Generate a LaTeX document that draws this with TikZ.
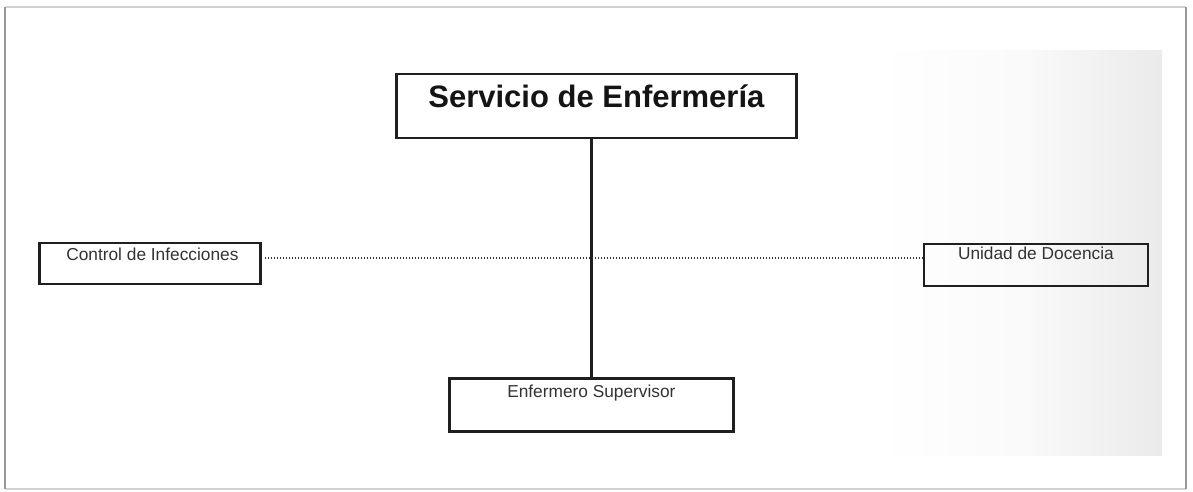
\documentclass[tikz,border=0pt]{standalone}
\usepackage{fontspec}
\setmainfont{Liberation Sans}
\begin{document}
\begin{tikzpicture}[x=1pt,y=-1pt,
  box/.style={draw=black!88,line width=2.8pt,inner xsep=0pt,inner ysep=0pt,anchor=north west,font=\fontsize{17.3}{20}\selectfont,text=black!80},
  title/.style={font=\fontsize{31}{36}\selectfont\bfseries,text=black!92},
  link/.style={draw=black!88,line width=2.2pt},
  dotline/.style={draw=black!80,line width=1.5pt,dash pattern=on 1.3pt off 1.7pt}]
\useasboundingbox (0,0) rectangle (1193,491);
\fill[white] (0,0) rectangle (1193,491);
% scan shading on the right
\shade[left color=white,right color=black!8,middle color=black!2] (880,50) rectangle (1162,455);
% outer frame
\draw[black!18,line width=2pt] (5,7) -- (1186,7);
\draw[black!18,line width=2pt] (5,489) -- (1186,489);
\draw[black!40,line width=2pt] (5,7) -- (5,489);
\draw[black!40,line width=2pt] (1186,7) -- (1186,489);
% nodes
\node[box,title,minimum width=400pt,text height=34pt,text depth=30pt] (serv) at (395,72.5) {Servicio de Enfermería};
\node[box,minimum width=221pt,text height=18pt,text depth=23pt] (ctrl) at (38,241.5) {\hspace*{5pt}Control de Infecciones};
\node[box,minimum width=224pt,text height=15.5pt,text depth=26.5pt] (unid) at (922.5,242.5) {Unidad de Docencia};
\node[box,minimum width=284pt,text height=19pt,text depth=34pt] (sup) at (448,377) {Enfermero Supervisor};
% connectors
\draw[link] (sup.north |- serv.south) -- (sup.north);
\coordinate (d1) at (265,258);
\draw[dotline] (d1) -- (d1 -| unid.west);
\end{tikzpicture}
\end{document}
